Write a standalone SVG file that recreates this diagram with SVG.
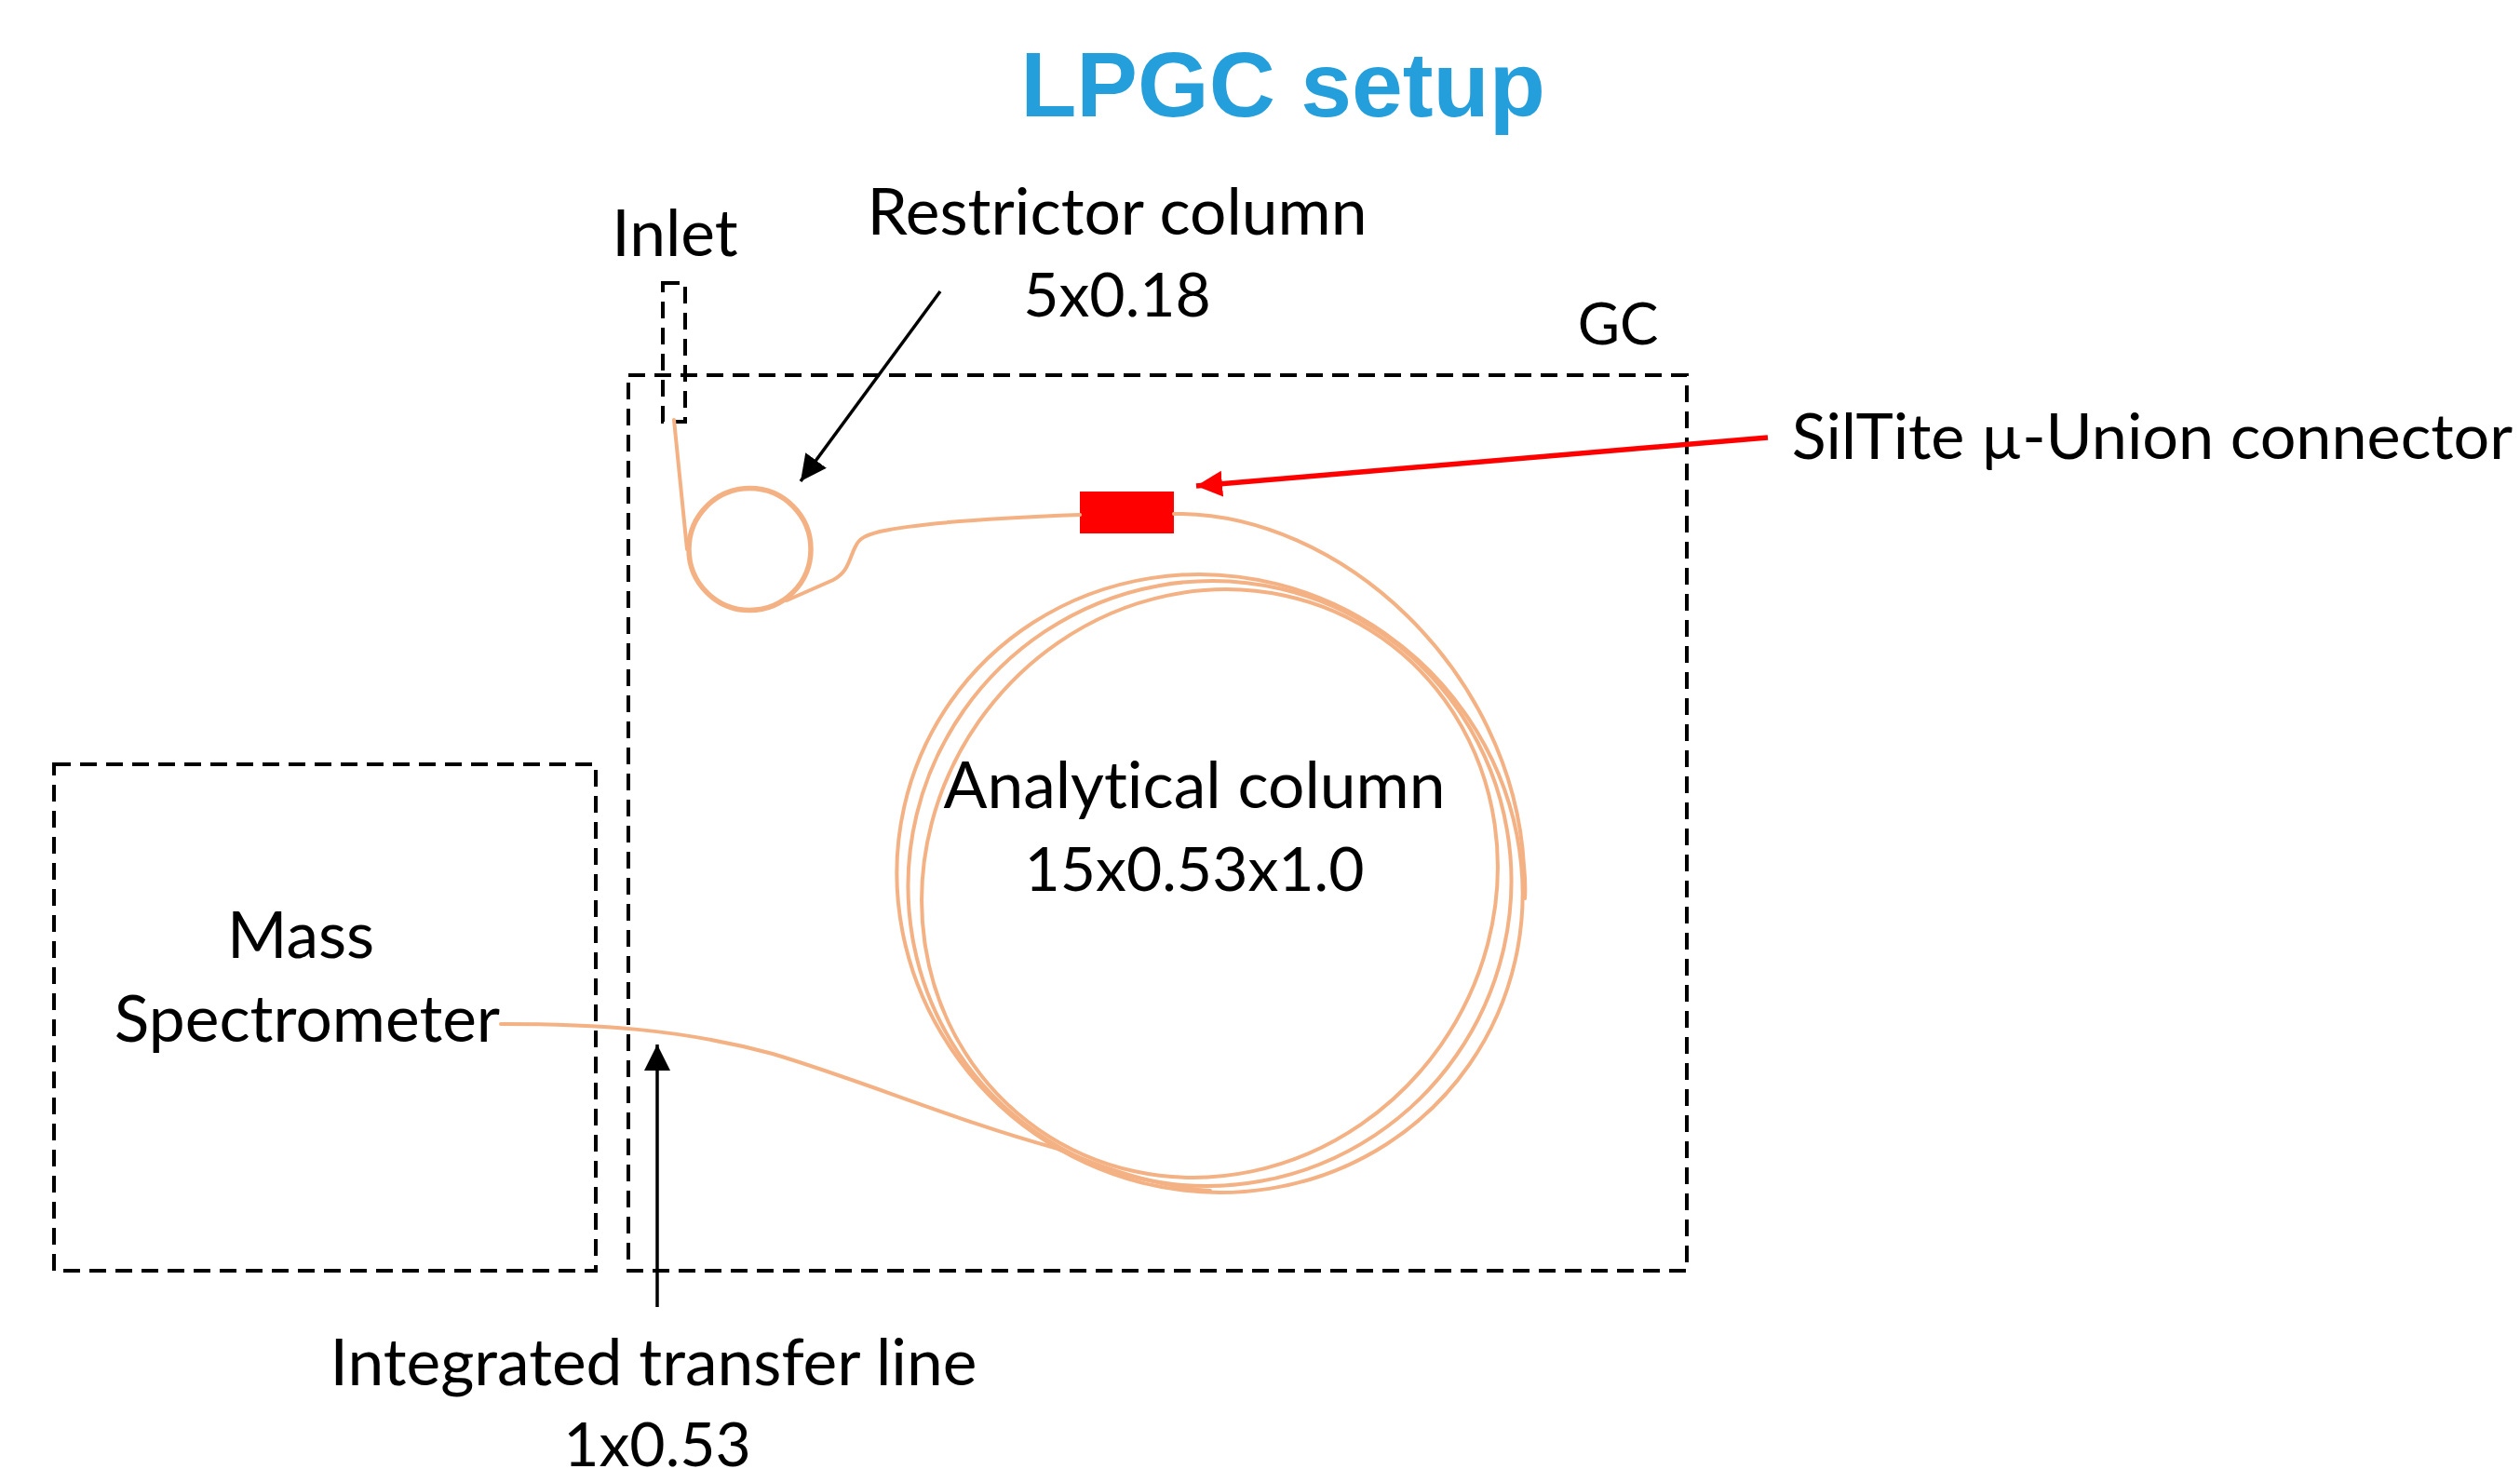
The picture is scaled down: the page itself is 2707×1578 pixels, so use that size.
<svg xmlns="http://www.w3.org/2000/svg" width="2707" height="1578" viewBox="0 0 2707 1578">
<style>
text{font-family:"Lato","Liberation Sans",sans-serif;font-size:69.5px;fill:#000;text-anchor:middle;font-variant-ligatures:none}
.num{font-size:66px}
.title{font-family:"Liberation Sans",Arial,sans-serif;font-weight:700;font-size:98.5px;fill:#249fdb}
.box{fill:none;stroke:#000;stroke-width:4;stroke-dasharray:18 10}
.fibre{fill:none;stroke:#f4b183;stroke-width:4;stroke-linecap:round}
.arr{fill:none;stroke:#000;stroke-width:3.5}
</style>
<defs>
<marker id="ah" markerUnits="userSpaceOnUse" markerWidth="30" markerHeight="30" refX="28" refY="14" orient="auto"><path d="M0,0L28,14L0,28z" fill="#000"/></marker>
<marker id="ahr" markerUnits="userSpaceOnUse" markerWidth="30" markerHeight="30" refX="28" refY="14" orient="auto"><path d="M0,0L28,14L0,28z" fill="#f00"/></marker>
</defs>
<rect width="2707" height="1578" fill="#fff"/>
<text class="title" x="1378" y="125">LPGC setup</text>
<g id="inlet"><rect class="box" x="712" y="304" width="24" height="149"/><text x="725" y="275">Inlet</text></g>
<g id="gc"><rect class="box" x="675" y="403" width="1137" height="962"/><text class="num" style="font-size:62px" x="1738" y="370">GC</text></g>
<g id="mass-spectrometer"><rect class="box" x="58" y="821" width="582" height="544"/><text x="323" y="1029">Mass</text><text x="330" y="1119">Spectrometer</text></g>
<g id="restrictor-column">
<text x="1200" y="252">Restrictor column</text><text class="num" x="1200" y="340">5x0.18</text>
<ellipse cx="805.5" cy="590" rx="65.5" ry="65.5" fill="none" stroke="#f4b183" stroke-width="5.5"/>
</g>
<g id="analytical-column">
<ellipse class="fibre" cx="1299.5" cy="949" rx="328" ry="340" transform="rotate(-55 1299.5 949)"/>
<ellipse class="fibre" cx="1299.5" cy="949" rx="326" ry="323" transform="rotate(-55 1299.5 949)"/>
<ellipse class="fibre" cx="1299.5" cy="949" rx="322" ry="303" transform="rotate(-55 1299.5 949)"/>
<text x="1283" y="868">Analytical column</text><text class="num" x="1283" y="957">15x0.53x1.0</text>
</g>
<g id="connector-union"><rect x="1160" y="528" width="101" height="45" fill="#f00"/><text style="font-size:68.3px" x="2312" y="493">SilTite µ-Union connector</text></g>
<g id="transfer-line-label"><text x="702" y="1488">Integrated transfer line</text><text class="num" x="706" y="1575">1x0.53</text></g>
<g id="connectors">
<path class="fibre" d="M724,451L738,590"/>
<path class="fibre" d="M845,645L895,623C912,614 912,600 919,587C923,578 930,575 945,571C985,562 1080,556 1160,553"/>
<path class="fibre" d="M1261,552C1440,550 1625,720 1637,930Q1639,950 1638,965"/>
<path class="fibre" d="M538,1100C640,1100 730,1105 830,1132C930,1162 1030,1205 1133,1233C1180,1252 1240,1275 1300,1279"/>
<path class="arr" marker-end="url(#ah)" d="M1010,313L860,517"/>
<path class="arr" marker-end="url(#ah)" d="M706,1404V1122"/>
<path fill="none" stroke="#f00" stroke-width="5.5" marker-end="url(#ahr)" d="M1899,470L1285,522"/>
</g>
</svg>
